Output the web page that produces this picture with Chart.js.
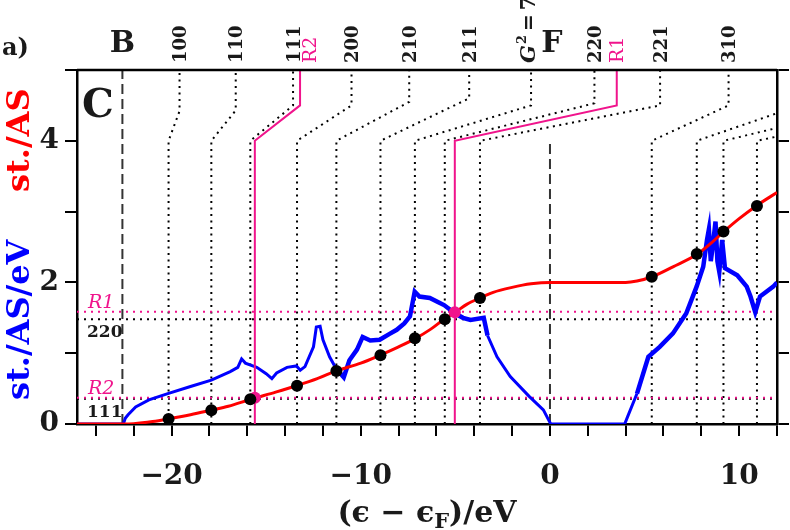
<!DOCTYPE html>
<html><head><meta charset="utf-8">
<script src="https://cdn.jsdelivr.net/npm/chart.js@4.4.1/dist/chart.umd.min.js"></script>
<style>html,body{margin:0;padding:0;background:#fff;}#wrap{width:790px;height:530px;}</style>
</head><body><div id="wrap"><canvas id="c" width="790" height="530"></canvas></div>
<script>
// ---- data ----
const dosEnergy = [-25,-22.55,-22.45,-22.3,-21.9,-21.2,-20.2,-19.0,-17.9,-16.9,-16.5,-16.3,-16.1,-15.5,-15.0,-14.7,-14.45,-13.9,-13.4,-13.2,-12.95,-12.5,-12.35,-12.15,-12.0,-11.65,-11.3,-11.1,-10.9,-10.6,-10.2,-9.9,-9.5,-9.0,-8.5,-8.1,-7.7,-7.4,-7.15,-6.9,-6.35,-5.9,-5.6,-5.0,-4.6,-4.2,-3.5,-3.3,-2.8,-2.1,-1.1,-0.35,0,0.05,3.95,4.1,4.6,5.2,5.8,6.5,7.2,7.75,8.1,8.3,8.4,8.5,8.6,8.75,8.85,8.95,9.1,9.25,9.9,10.4,10.6,10.85,11.1,11.8,12];
const dosValue  = [0,0,0.08,0.13,0.24,0.34,0.43,0.53,0.62,0.74,0.8,0.92,0.86,0.8,0.71,0.64,0.72,0.8,0.82,0.76,0.81,1.09,1.37,1.38,1.19,0.95,0.78,0.72,0.66,0.90,1.05,1.23,1.18,1.19,1.27,1.33,1.42,1.52,1.87,1.80,1.78,1.72,1.68,1.56,1.5,1.47,1.5,1.25,0.95,0.67,0.39,0.2,0.02,0,0,0.1,0.43,0.95,1.09,1.28,1.56,1.94,2.22,2.6,2.75,2.3,2.5,2.86,2.3,2.15,2.6,2.2,2.1,1.94,1.8,1.58,1.8,1.94,2.0];
const intEnergy = [-25,-22.5,-22,-21,-20.2,-19,-17.9,-17,-15.8,-14.5,-13.4,-12.3,-11.3,-10,-9,-8,-7.1,-6.3,-5.6,-5.0,-4.4,-3.7,-3,-2,-1,0,2,4,4.6,5.4,6.5,7.8,8.5,9.2,10,10.9,12];
const intValue  = [0,0,0.005,0.035,0.07,0.13,0.195,0.25,0.35,0.45,0.54,0.64,0.75,0.86,0.97,1.09,1.21,1.34,1.48,1.58,1.69,1.78,1.86,1.93,1.98,2.0,2.0,2.0,2.02,2.08,2.22,2.40,2.55,2.72,2.9,3.08,3.27];
// energy windows where the DOS trace is visibly noisy (drawn as a thicker band)
const noisyFrom = [-11.5, 4.5];
const noisyTo   = [-3.3, 12];

const boundaryLabels  = ['100','110','111','200','210','211','G','220','221','310','','',''];
const boundaryBottomX = [-20.16,-17.9,-15.84,-13.37,-11.29,-8.96,-7.14,-5.56,-3.7,5.38,7.76,9.17,10.94];
const boundaryTopX    = [-19.58,-16.61,-13.58,-10.49,-7.44,-4.27,-1.0,2.35,5.82,9.44,13.2,17.0,19.8];
const boundaryBendY   = [4.42,4.43,4.5,4.5,4.55,4.6,4.5,4.53,4.5,4.5,4.5,4.5,4.5];
const boundaryFootY   = 4.0;
const boundaryDotY    = [0.07,0.195,0.35,0.54,0.75,0.97,1.21,1.48,1.78,2.08,2.40,2.72,3.08];

const resonanceNames   = ['R1','R2'];
const resonanceBottomX = [-5.03,-15.6];
const resonanceTopX    = [3.53,-13.21];
const resonanceBendY   = [4.5,4.5];
const resonanceDotY    = [1.58,0.37];
const resonanceLevelY  = [1.585,0.37];

const gapLabels = ['220','111'];
const gapLevelY = [1.48,0.355];

const edgeNames = ['B','F'];
const edgeX     = [-22.6,0];
const edgeTopY  = [5,4];

const xTickLabels = [-20,-10,0,10];
const yTickLabels = [0,2,4];

// ---- build datasets ----
const MAG = '#f0148c';
const pts = (xs, ys) => xs.map((x,i)=>({x, y: ys[i]}));
const inNoisy = v => noisyFrom.some((f,i)=> v >= f && v <= noisyTo[i]);
const datasets = [];
datasets.push({data: pts(boundaryBottomX, boundaryDotY), showLine:false, pointRadius:6, pointBackgroundColor:'#000', pointBorderWidth:0});
datasets.push({data: pts(resonanceBottomX, resonanceDotY), showLine:false, pointRadius:6, pointBackgroundColor:MAG, pointBorderWidth:0});
datasets.push({data: pts(intEnergy, intValue), borderColor:'#ff0000', borderWidth:3, pointRadius:0, cubicInterpolationMode:'monotone'});
resonanceBottomX.forEach((bx,i)=>{
  datasets.push({data:[{x:bx,y:0},{x:bx,y:boundaryFootY},{x:resonanceTopX[i],y:resonanceBendY[i]},{x:resonanceTopX[i],y:5}], borderColor:MAG, borderWidth:2, pointRadius:0});
});
datasets.push({data: pts(dosEnergy, dosValue), borderColor:'#0000ff', borderWidth:3, pointRadius:0,
  segment:{borderWidth: c => (inNoisy(c.p0.parsed.x) && inNoisy(c.p1.parsed.x)) ? 4.5 : 3}});
resonanceLevelY.forEach(yv=>{
  datasets.push({data:[{x:-25,y:yv},{x:12,y:yv}], borderColor:MAG, borderWidth:2, borderDash:[2,5], pointRadius:0});
});
gapLevelY.forEach(yv=>{
  datasets.push({data:[{x:-25,y:yv},{x:12,y:yv}], borderColor:'#000', borderWidth:2, borderDash:[2,5], pointRadius:0});
});
edgeX.forEach((ex,i)=>{
  datasets.push({data:[{x:ex,y:0},{x:ex,y:edgeTopY[i]}], borderColor:'#333', borderWidth:2, borderDash:[10,5], pointRadius:0});
});
boundaryBottomX.forEach((bx,i)=>{
  datasets.push({data:[{x:bx,y:0},{x:bx,y:boundaryFootY},{x:boundaryTopX[i],y:boundaryBendY[i]},{x:boundaryTopX[i],y:5}], borderColor:'#000', borderWidth:2, borderDash:[2,4.5], pointRadius:0});
});

const FONT = '"DejaVu Serif", serif';
const fmt = v => (v<0 ? '\u2212'+Math.abs(v) : String(v));
const axisCommon = {
  border:{display:true, color:'#000', width:2.5},
  grid:{display:true, drawOnChartArea:false, drawTicks:true, tickLength:12, color:'#000', lineWidth:2}
};

function rotText(ctx, text, cx, by, font, color){
  ctx.save(); ctx.translate(cx, by); ctx.rotate(-Math.PI/2);
  ctx.font = font; ctx.fillStyle = color; ctx.textAlign='left'; ctx.textBaseline='alphabetic';
  ctx.fillText(text, 0, 0); ctx.restore();
}

const textPlugin = {
  id:'texts',
  afterDraw(chart){
    const {ctx, chartArea:a, scales:{x, y}} = chart;
    ctx.save();
    ctx.strokeStyle='#000'; ctx.lineWidth=2.5;
    ctx.beginPath(); ctx.moveTo(a.left, a.top); ctx.lineTo(a.right, a.top); ctx.stroke();
    ctx.fillStyle='#1a1a1a'; ctx.textBaseline='alphabetic';
    // x tick labels
    ctx.font='bold 28px '+FONT; ctx.textAlign='center';
    xTickLabels.forEach(v=>ctx.fillText(fmt(v), x.getPixelForValue(v), 484));
    ctx.font='bold 24px '+FONT; ctx.textAlign='left'; ctx.fillText('a)', 2, 55);
    ctx.font='bold 30px '+FONT; ctx.textAlign='center';
    edgeNames.forEach((n,i)=>ctx.fillText(n, x.getPixelForValue(edgeX[i]) + (i===1 ? 2 : 0), 52));
    ctx.font='bold 40px '+FONT; ctx.textAlign='left'; ctx.fillText('C', 82, 117);
    // top labels (rotated)
    const topFs = 18, by = 63;
    boundaryLabels.forEach((lab,i)=>{
      if(!lab) return;
      const cx = x.getPixelForValue(boundaryTopX[i]) + topFs*0.36;
      if(lab === 'G'){
        ctx.save(); ctx.translate(cx - 3, by); ctx.rotate(-Math.PI/2);
        ctx.fillStyle='#1a1a1a'; ctx.textAlign='left';
        ctx.font='bold italic 21px '+FONT; ctx.fillText('G',0,0);
        let w = ctx.measureText('G').width;
        ctx.font='bold 13px '+FONT; ctx.fillText('2', w+1, -9);
        w += ctx.measureText('2').width + 5;
        ctx.font='bold 20px '+FONT; ctx.fillText('=', w, 0);
        w += ctx.measureText('=').width + 4;
        ctx.fillText('7', w, 0);
        ctx.restore();
      } else {
        rotText(ctx, lab, cx, by, 'bold '+topFs+'px '+FONT, '#1a1a1a');
      }
    });
    const rOff = [0, 9];
    resonanceNames.forEach((n,i)=>{
      rotText(ctx, n, x.getPixelForValue(resonanceTopX[i]) + topFs*0.36 + rOff[i], by, '19px '+FONT, MAG);
    });
    // left level labels
    ctx.textAlign='left';
    resonanceNames.forEach((n,i)=>{
      ctx.font='italic 19px '+FONT; ctx.fillStyle=MAG;
      ctx.fillText(n, 88, y.getPixelForValue(resonanceLevelY[i]) - 4);
    });
    gapLabels.forEach((n,i)=>{
      ctx.font='bold 17px '+FONT; ctx.fillStyle='#1a1a1a';
      ctx.fillText(n, 87, y.getPixelForValue(gapLevelY[i]) + 18);
    });
    // y axis titles
    rotText(ctx, 'st./AS', 29, 192, 'bold 32px '+FONT, '#ff0000');
    rotText(ctx, 'st./AS/eV', 29, 400, 'bold 32px '+FONT, '#0000ff');
    // x axis title
    const fs = 30, base = 522;
    const parts = [['(\u03f5 \u2212 \u03f5', fs, 0], ['F', Math.round(fs*0.7), 6], [')/eV', fs, 0]];
    let total = 0;
    parts.forEach(p=>{ ctx.font='bold '+p[1]+'px '+FONT; total += ctx.measureText(p[0]).width; });
    let px = (a.left + a.right)/2 - total/2;
    ctx.fillStyle='#1a1a1a'; ctx.textAlign='left';
    parts.forEach(p=>{ ctx.font='bold '+p[1]+'px '+FONT; ctx.fillText(p[0], px, base + p[2]); px += ctx.measureText(p[0]).width; });
    ctx.restore();
  }
};

new Chart(document.getElementById('c'), {
  type:'line',
  data:{datasets},
  options:{
    responsive:false, animation:false, devicePixelRatio:1,
    layout:{padding:{top:70, left:0, right:0, bottom:0}},
    plugins:{legend:{display:false}, tooltip:{enabled:false}},
    elements:{line:{tension:0}},
    scales:{
      x:{type:'linear', min:-25, max:12, position:'bottom', ...axisCommon,
        afterFit(s){ s.height = 106; s.paddingLeft = 0; s.paddingRight = 0; },
        ticks:{stepSize:2, includeBounds:false, autoSkip:false, maxRotation:0, minRotation:0, padding:0,
          font:{size:10}, callback:()=>''}},
      y:{type:'linear', min:0, max:5, position:'left', ...axisCommon,
        afterFit(s){ s.width = 77; },
        ticks:{stepSize:1, includeBounds:false, padding:6, color:'#1a1a1a',
          font:{family:FONT, weight:'bold', size:28}, callback:v=> yTickLabels.includes(v) ? String(v) : ''}},
      y2:{type:'linear', min:0, max:5, position:'right', ...axisCommon,
        afterFit(s){ s.width = 13; },
        ticks:{stepSize:1, display:false}}
    }
  },
  plugins:[textPlugin]
});
</script></body></html>
